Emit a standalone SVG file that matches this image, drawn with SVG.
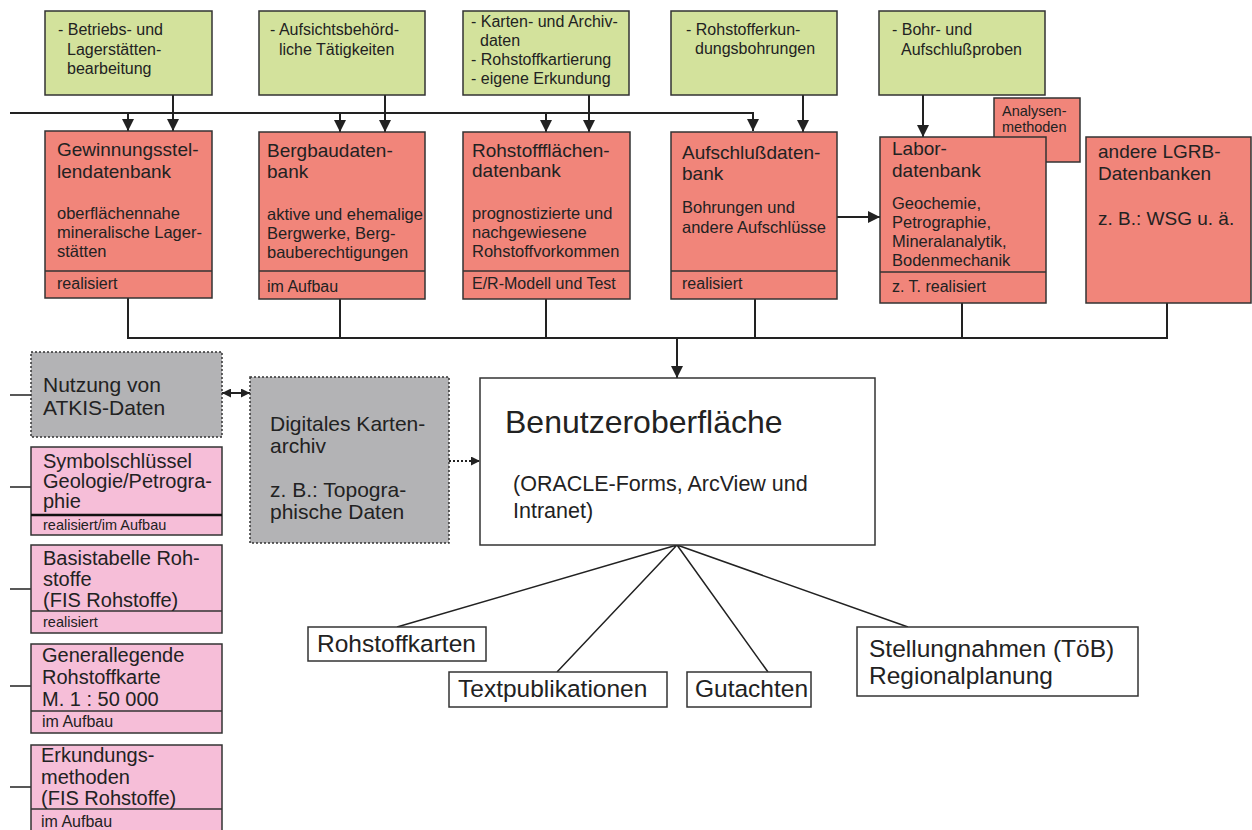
<svg xmlns="http://www.w3.org/2000/svg" width="1252" height="830" viewBox="0 0 1252 830">
  <style>
    text { font-family: "Liberation Sans", Arial, sans-serif; fill: #222; }
    .src { fill: #d3e29c; stroke: #333; stroke-width: 1.5; }
    .db { fill: #f1857a; stroke: #333; stroke-width: 1.5; }
    .tab { fill: #f6bed8; stroke: #333; stroke-width: 1.5; }
    .ext { fill: #b3b3b5; stroke: #333; stroke-width: 1.5; stroke-dasharray: 2 2; }
    .out { fill: #fff; stroke: #333; stroke-width: 1.5; }
    .div { stroke: #333; stroke-width: 1.5; }
    .line { fill: none; stroke: #222; stroke-width: 2; }
    .thin { fill: none; stroke: #222; stroke-width: 1.5; }
    .t16 { font-size: 16px; }
    .t19 { font-size: 19px; }
    .t165 { font-size: 16.5px; }
    .t20 { font-size: 20px; }
    .t21 { font-size: 21px; }
    .t24 { font-size: 24.5px; }
  </style>
  <defs>
    <marker id="arr" viewBox="0 0 12 12" refX="12" refY="6" markerWidth="12" markerHeight="12" markerUnits="userSpaceOnUse" orient="auto">
      <path d="M0,0 L12,6 L0,12 z" fill="#222"/>
    </marker>
    <marker id="arrS" viewBox="0 0 10 10" refX="10" refY="5" markerWidth="9" markerHeight="9" markerUnits="userSpaceOnUse" orient="auto-start-reverse">
      <path d="M0,0 L10,5 L0,10 z" fill="#222"/>
    </marker>
  </defs>

  <!-- connectors -->
  <g id="connectors">
    <path class="line" d="M10,113 H753 V131" marker-end="url(#arr)"/>
    <path class="line" d="M128,113 V131" marker-end="url(#arr)"/>
    <path class="line" d="M340,113 V132" marker-end="url(#arr)"/>
    <path class="line" d="M546,113 V132" marker-end="url(#arr)"/>
    <path class="line" d="M173,95 V131" marker-end="url(#arr)"/>
    <path class="line" d="M385,95 V132" marker-end="url(#arr)"/>
    <path class="line" d="M589,95 V132" marker-end="url(#arr)"/>
    <path class="line" d="M803,95 V132" marker-end="url(#arr)"/>
    <path class="line" d="M923,95 V137" marker-end="url(#arr)"/>
    <path class="line" d="M837,217 H880" marker-end="url(#arr)"/>
    <path class="line" d="M128,298 V338 H1167 V303"/>
    <path class="line" d="M340,299 V338 M546,299 V338 M755,299 V338 M962,303 V338"/>
    <path class="line" d="M677,338 V378" marker-end="url(#arr)"/>
    <path class="line" d="M222,393 H250" marker-start="url(#arrS)" marker-end="url(#arrS)"/>
    <path class="line" d="M449,461 H480" stroke-dasharray="2 2" marker-end="url(#arrS)"/>
    <path class="thin" d="M10,395 H31 M10,487 H31 M10,589 H31 M10,686 H31 M10,787 H31"/>
    <path class="thin" d="M677,545 L397,627 M677,545 L557,672 M677,545 L768,672 M677,545 L908,627"/>
  </g>

  <!-- data sources -->
  <g id="src-betrieb">
    <rect class="src" x="45" y="11" width="167" height="84"/>
    <text class="t16" x="58" y="35">- Betriebs- und</text>
    <text class="t16" x="67" y="55">Lagerstätten-</text>
    <text class="t16" x="67" y="74">bearbeitung</text>
  </g>
  <g id="src-aufsicht">
    <rect class="src" x="259" y="11" width="166" height="84"/>
    <text class="t16" x="270" y="35">- Aufsichtsbehörd-</text>
    <text class="t16" x="279" y="55">liche Tätigkeiten</text>
  </g>
  <g id="src-karten">
    <rect class="src" x="463" y="11" width="166" height="84"/>
    <text class="t16" x="471" y="27">- Karten- und Archiv-</text>
    <text class="t16" x="480" y="46">daten</text>
    <text class="t16" x="471" y="65">- Rohstoffkartierung</text>
    <text class="t16" x="471" y="84">- eigene Erkundung</text>
  </g>
  <g id="src-bohrungen">
    <rect class="src" x="671" y="11" width="166" height="84"/>
    <text class="t16" x="686" y="35">- Rohstofferkun-</text>
    <text class="t16" x="695" y="54">dungsbohrungen</text>
  </g>
  <g id="src-proben">
    <rect class="src" x="879" y="11" width="166" height="84"/>
    <text class="t16" x="892" y="35">- Bohr- und</text>
    <text class="t16" x="901" y="55">Aufschlußproben</text>
  </g>

  <!-- databases -->
  <g id="db-gewinnung">
    <rect class="db" x="45" y="131" width="167" height="167"/>
    <line class="div" x1="45" y1="271" x2="212" y2="271"/>
    <text class="t19" x="57" y="156">Gewinnungsstel-</text>
    <text class="t19" x="57" y="178">lendatenbank</text>
    <text class="t165" x="57" y="219">oberflächennahe</text>
    <text class="t165" x="57" y="238">mineralische Lager-</text>
    <text class="t165" x="57" y="257">stätten</text>
    <text class="t16" x="57" y="289">realisiert</text>
  </g>
  <g id="db-bergbau">
    <rect class="db" x="259" y="132" width="166" height="167"/>
    <line class="div" x1="259" y1="271" x2="425" y2="271"/>
    <text class="t19" x="267" y="157">Bergbaudaten-</text>
    <text class="t19" x="267" y="178">bank</text>
    <text class="t165" x="267" y="220">aktive und ehemalige</text>
    <text class="t165" x="267" y="239">Bergwerke, Berg-</text>
    <text class="t165" x="267" y="258">bauberechtigungen</text>
    <text class="t16" x="267" y="292">im Aufbau</text>
  </g>
  <g id="db-rohstoffflaechen">
    <rect class="db" x="463" y="132" width="167" height="167"/>
    <line class="div" x1="463" y1="271" x2="630" y2="271"/>
    <text class="t19" x="472" y="157">Rohstoffflächen-</text>
    <text class="t19" x="472" y="177">datenbank</text>
    <text class="t165" x="472" y="219">prognostizierte und</text>
    <text class="t165" x="472" y="238">nachgewiesene</text>
    <text class="t165" x="472" y="257">Rohstoffvorkommen</text>
    <text class="t16" x="472" y="289">E/R-Modell und Test</text>
  </g>
  <g id="db-aufschluss">
    <rect class="db" x="671" y="132" width="166" height="167"/>
    <line class="div" x1="671" y1="271" x2="837" y2="271"/>
    <text class="t19" x="682" y="159">Aufschlußdaten-</text>
    <text class="t19" x="682" y="180">bank</text>
    <text class="t165" x="682" y="213">Bohrungen und</text>
    <text class="t165" x="682" y="233">andere Aufschlüsse</text>
    <text class="t16" x="682" y="289">realisiert</text>
  </g>
  <g id="db-analysen">
    <rect class="db" x="994" y="98" width="86" height="64"/>
    <text x="1002" y="116" font-size="14.5">Analysen-</text>
    <text x="1002" y="132" font-size="14.5">methoden</text>
  </g>
  <g id="db-labor">
    <rect class="db" x="880" y="137" width="166" height="166"/>
    <line class="div" x1="880" y1="272" x2="1046" y2="272"/>
    <text class="t19" x="892" y="155">Labor-</text>
    <text class="t19" x="892" y="177">datenbank</text>
    <text class="t165" x="892" y="209">Geochemie,</text>
    <text class="t165" x="892" y="228">Petrographie,</text>
    <text class="t165" x="892" y="247">Mineralanalytik,</text>
    <text class="t165" x="892" y="266">Bodenmechanik</text>
    <text class="t16" x="892" y="292">z. T. realisiert</text>
  </g>
  <g id="db-lgrb">
    <rect class="db" x="1086" y="137" width="165" height="166"/>
    <text class="t19" x="1098" y="158">andere LGRB-</text>
    <text class="t19" x="1098" y="180">Datenbanken</text>
    <text class="t19" x="1098" y="225">z. B.: WSG u. ä.</text>
  </g>

  <!-- external data -->
  <g id="ext-atkis">
    <rect class="ext" x="31" y="352" width="191" height="85"/>
    <text class="t21" x="43" y="392">Nutzung von</text>
    <text class="t21" x="43" y="415">ATKIS-Daten</text>
  </g>
  <g id="ext-kartenarchiv">
    <rect class="ext" x="250" y="377" width="199" height="166"/>
    <text class="t21" x="270" y="431">Digitales Karten-</text>
    <text class="t21" x="270" y="453">archiv</text>
    <text class="t21" x="270" y="497">z. B.: Topogra-</text>
    <text class="t21" x="270" y="519">phische Daten</text>
  </g>

  <!-- reference tables -->
  <g id="tab-symbol">
    <rect class="tab" x="31" y="447" width="191" height="88"/>
    <line x1="31" y1="515" x2="222" y2="515" stroke="#111" stroke-width="2.5"/>
    <text class="t20" x="43" y="468">Symbolschlüssel</text>
    <text class="t20" x="43" y="488">Geologie/Petrogra-</text>
    <text class="t20" x="43" y="508">phie</text>
    <text x="43" y="530" font-size="14.5">realisiert/im Aufbau</text>
  </g>
  <g id="tab-basis">
    <rect class="tab" x="31" y="545" width="191" height="88"/>
    <line class="div" x1="31" y1="611" x2="222" y2="611"/>
    <text class="t20" x="43" y="565">Basistabelle Roh-</text>
    <text class="t20" x="43" y="586">stoffe</text>
    <text class="t20" x="43" y="607">(FIS Rohstoffe)</text>
    <text x="43" y="627" font-size="14.5">realisiert</text>
  </g>
  <g id="tab-generallegende">
    <rect class="tab" x="31" y="644" width="191" height="89"/>
    <line class="div" x1="31" y1="711" x2="222" y2="711"/>
    <text class="t20" x="42" y="662">Generallegende</text>
    <text class="t20" x="42" y="684">Rohstoffkarte</text>
    <text class="t20" x="42" y="706">M. 1 : 50 000</text>
    <text class="t16" x="42" y="727">im Aufbau</text>
  </g>
  <g id="tab-erkundung">
    <rect class="tab" x="31" y="745" width="191" height="95"/>
    <line class="div" x1="31" y1="809" x2="222" y2="809"/>
    <text class="t20" x="41" y="762">Erkundungs-</text>
    <text class="t20" x="41" y="784">methoden</text>
    <text class="t20" x="41" y="805">(FIS Rohstoffe)</text>
    <text class="t16" x="41" y="827">im Aufbau</text>
  </g>

  <!-- user interface -->
  <g id="ui">
    <rect class="out" x="480" y="378" width="395" height="167"/>
    <text x="505" y="433" font-size="32">Benutzeroberfläche</text>
    <text x="513" y="491" font-size="21.5">(ORACLE-Forms, ArcView und</text>
    <text x="513" y="518" font-size="21.5">Intranet)</text>
  </g>

  <!-- products -->
  <g id="out-karten">
    <rect class="out" x="308" y="627" width="178" height="34"/>
    <text class="t24" x="317" y="652">Rohstoffkarten</text>
  </g>
  <g id="out-text">
    <rect class="out" x="449" y="672" width="218" height="35"/>
    <text class="t24" x="458" y="697">Textpublikationen</text>
  </g>
  <g id="out-gutachten">
    <rect class="out" x="687" y="672" width="124" height="35"/>
    <text class="t24" x="695" y="697">Gutachten</text>
  </g>
  <g id="out-stellung">
    <rect class="out" x="857" y="627" width="281" height="69"/>
    <text class="t24" x="869" y="657">Stellungnahmen (TöB)</text>
    <text class="t24" x="869" y="684">Regionalplanung</text>
  </g>
</svg>
